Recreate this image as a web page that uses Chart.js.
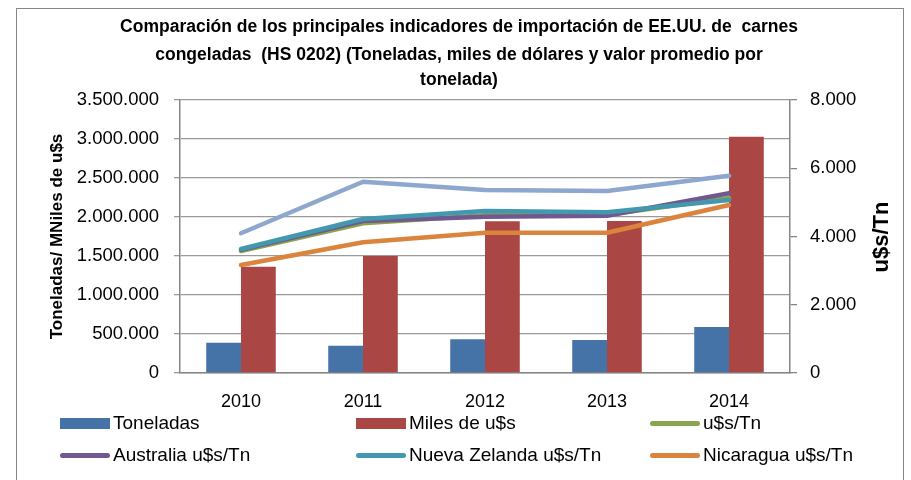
<!DOCTYPE html>
<html>
<head>
<meta charset="utf-8">
<script src="https://cdn.jsdelivr.net/npm/chart.js@4.4.1/dist/chart.umd.min.js"></script>
<style>
html,body{margin:0;padding:0;background:#fff;}
#wrap{position:relative;width:911px;height:480px;overflow:hidden;background:#fff;}
#frame{position:absolute;left:16px;top:8px;width:888px;height:520px;border:1px solid #868686;box-sizing:border-box;}
#c{position:absolute;left:0;top:0;}
.lg{position:absolute;display:flex;align-items:center;height:20px;font-family:"Liberation Sans",Arial,sans-serif;font-size:19px;color:#000;white-space:nowrap;}
.lg .sw{display:inline-block;width:50px;margin-right:3px;}
</style>
</head>
<body>
<div id="wrap">
  <div id="frame"></div>
  <canvas id="c" width="911" height="480"></canvas>
  <div id="legend"></div>
</div>
<script>
// ---- data ----
const categories = ['2010', '2011', '2012', '2013', '2014'];
const toneladas    = [388000, 350000, 432000, 423000, 590000];
const milesUsd     = [1363000, 1500000, 1945000, 1949000, 3030000];
const usdTn        = [3575, 4386, 4620, 4640, 5130];
const australiaTn  = [3610, 4454, 4580, 4609, 5265];
const nzTn         = [3633, 4512, 4747, 4709, 5069];
const nicaraguaTn  = [3165, 3829, 4111, 4111, 4923];
const otroTn       = [4094, 5605, 5362, 5333, 5781];
const seriesNames  = ['Toneladas', 'Miles de u$s', 'u$s/Tn', 'Australia u$s/Tn', 'Nueva Zelanda u$s/Tn', 'Nicaragua u$s/Tn', ''];
const titleLines   = ['Comparación de los principales indicadores de importación de EE.UU. de  carnes',
                      'congeladas  (HS 0202) (Toneladas, miles de dólares y valor promedio por',
                      'tonelada)'];
const leftAxisTitle  = 'Toneladas/ MNiles de u$s';
const rightAxisTitle = 'u$s/Tn';

const FONT = '"Liberation Sans", Arial, sans-serif';
Chart.defaults.font.family = FONT;
Chart.defaults.color = '#000';

function fmt(v){ return String(v).replace(/\B(?=(\d{3})+(?!\d))/g, '.'); }

function lineDs(label, data, color, order){
  return { type:'line', label, data, yAxisID:'y1', borderColor:color, backgroundColor:color,
           borderWidth:4.5, pointRadius:0, tension:0, borderCapStyle:'round', borderJoinStyle:'round',
           order, showInLegend: label !== '' };
}

const datasets = [
  { type:'bar', label:seriesNames[0], data:toneladas, yAxisID:'y', backgroundColor:'#4572A7',
    categoryPercentage:0.57, barPercentage:1.0, order:10, showInLegend:true },
  { type:'bar', label:seriesNames[1], data:milesUsd, yAxisID:'y', backgroundColor:'#AA4643',
    categoryPercentage:0.57, barPercentage:1.0, order:10, showInLegend:true },
  lineDs(seriesNames[2], usdTn, '#89A54E', 3),
  lineDs(seriesNames[3], australiaTn, '#71588F', 2),
  lineDs(seriesNames[4], nzTn, '#4198AF', 1),
  lineDs(seriesNames[5], nicaraguaTn, '#DB843D', 4),
  lineDs(seriesNames[6], otroTn, '#8EA7CF', 5),
];

const textPlugin = {
  id:'texts',
  afterDraw(chart){
    const ctx = chart.ctx;
    ctx.save();
    ctx.fillStyle = '#000';
    ctx.textAlign = 'center';
    ctx.textBaseline = 'middle';
    ctx.font = 'bold 17.5px ' + FONT;
    const ys = [27, 55, 80];
    titleLines.forEach((t,i)=>ctx.fillText(t, 459, ys[i]));
    ctx.translate(882, 237);
    ctx.rotate(-Math.PI/2);
    ctx.font = 'bold 22px ' + FONT;
    ctx.fillText(rightAxisTitle, 0, 0);
    ctx.restore();
  }
};

const chart = new Chart(document.getElementById('c'), {
  data: { labels: categories, datasets },
  plugins: [textPlugin],
  options: {
    responsive:false, animation:false,
    layout: { padding: { top:100, bottom:67, left:0, right:0 } },
    plugins: { legend:{ display:false }, tooltip:{ enabled:false } },
    scales: {
      x: {
        grid:{ display:false },
        border:{ display:true, color:'#868686', width:1.5 },
        ticks:{ font:{ size:18 }, color:'#000', padding:10, maxRotation:0 },
        afterFit(s){ s.height = 40; }
      },
      y: {
        position:'left', min:0, max:3500000,
        ticks:{ stepSize:500000, font:{ size:18.5 }, color:'#000', padding:15, callback:v=>fmt(v) },
        grid:{ color:'#9a9a9a', lineWidth:1.3, tickLength:6 },
        border:{ color:'#868686', width:1.5 },
        title:{ display:true, text:leftAxisTitle, font:{ size:17, weight:'bold' }, color:'#000', padding:{ top:47 } },
        afterFit(s){ s.width = 180; }
      },
      y1: {
        position:'right', min:0, max:8000,
        ticks:{ stepSize:2000, font:{ size:18.5 }, color:'#000', padding:13, callback:v=>fmt(v) },
        grid:{ drawOnChartArea:false, color:'#868686', lineWidth:1.3, tickLength:7 },
        border:{ color:'#868686', width:1.5 },
        afterFit(s){ s.width = 121; }
      }
    }
  }
});

// HTML legend built from the chart's datasets
const legendPos = [[60,423],[356,423],[650,423],[60,455],[356,455],[650,455]];
const lg = document.getElementById('legend');
chart.data.datasets.filter(d=>d.showInLegend).forEach((d,i)=>{
  const el = document.createElement('div');
  el.className = 'lg';
  el.style.left = legendPos[i][0] + 'px';
  el.style.top = (legendPos[i][1] - 10) + 'px';
  const sw = document.createElement('span');
  sw.className = 'sw';
  sw.style.background = d.backgroundColor;
  if (d.type === 'line') { sw.style.height = '5px'; sw.style.borderRadius = '3px'; }
  else { sw.style.height = '11px'; }
  el.appendChild(sw);
  el.appendChild(document.createTextNode(d.label));
  lg.appendChild(el);
});
</script>
</body>
</html>
